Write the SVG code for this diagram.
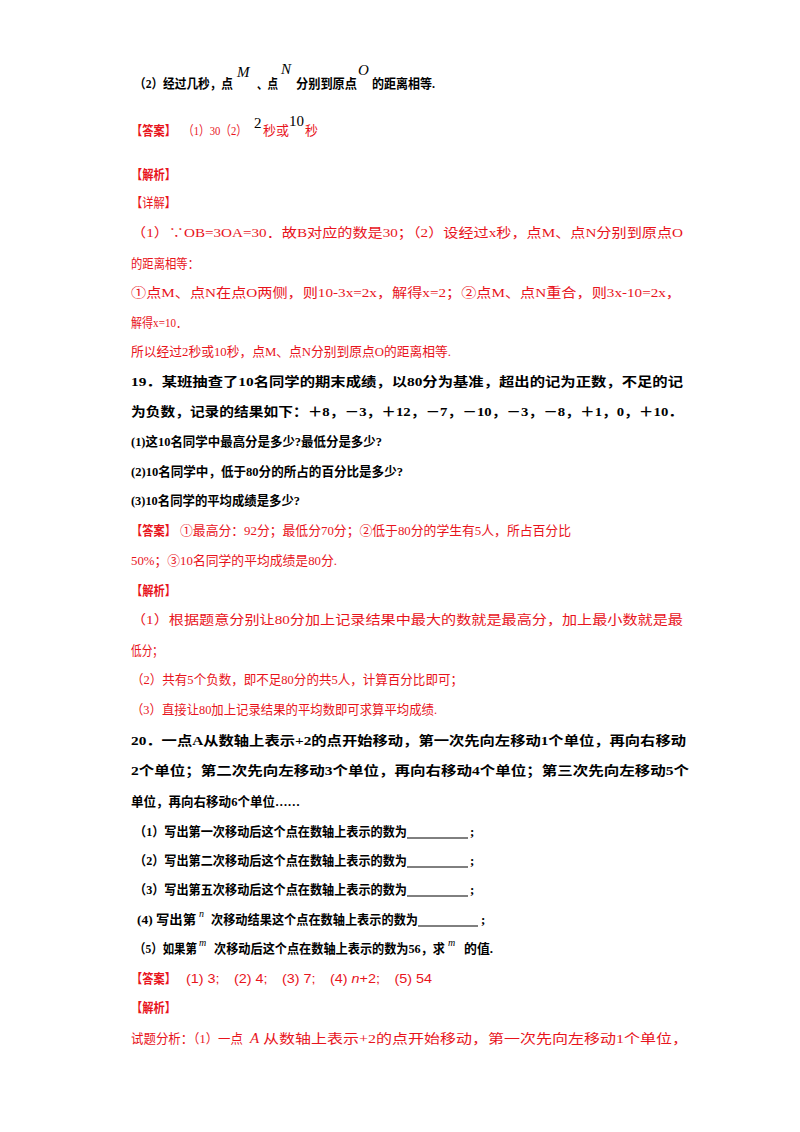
<svg xmlns="http://www.w3.org/2000/svg" width="800" height="1132" viewBox="0 0 800 1132">
<style>
text{font-family:"Liberation Serif","Noto Sans CJK SC",serif;font-size:13px}
.b{font-weight:bold;fill:#000}
.r{fill:#e8141c}
.rb{fill:#e8141c;font-weight:bold}
.i{font-style:italic;font-family:"Liberation Serif",serif;font-size:15px}
.u{stroke:#000;stroke-width:1}
</style>
<rect width="800" height="1132" fill="#fff"/>
<g id="q18">
<text class="b" x="134" y="88" textLength="99" lengthAdjust="spacingAndGlyphs">（2）经过几秒，点</text>
<text class="i" x="237" y="77">M</text>
<text class="b" x="257" y="88" textLength="21" lengthAdjust="spacingAndGlyphs">、点</text>
<text class="i" x="281" y="74">N</text>
<text class="b" x="296" y="88" textLength="61" lengthAdjust="spacingAndGlyphs">分别到原点</text>
<text class="i" x="358" y="75">O</text>
<text class="b" x="372" y="88" textLength="63" lengthAdjust="spacingAndGlyphs">的距离相等.</text>
<text class="rb" x="131" y="135" textLength="45" lengthAdjust="spacingAndGlyphs">【答案】</text>
<text class="r" x="183" y="135" textLength="64" lengthAdjust="spacingAndGlyphs">（1）30（2）</text>
<text x="254" y="128" style="font-size:15px">2</text>
<text class="r" x="263" y="135" textLength="26" lengthAdjust="spacingAndGlyphs">秒或</text>
<text x="289" y="126" style="font-size:15px">10</text>
<text class="r" x="305" y="135">秒</text>
<text class="rb" x="131" y="179" textLength="45" lengthAdjust="spacingAndGlyphs">【解析】</text>
<text class="r" x="131" y="207" textLength="45" lengthAdjust="spacingAndGlyphs">【详解】</text>
<text class="r" x="131" y="237" textLength="552" lengthAdjust="spacingAndGlyphs">（1）∵OB=3OA=30．故B对应的数是30；（2）设经过x秒，点M、点N分别到原点O</text>
<text class="r" x="131" y="268" textLength="68" lengthAdjust="spacingAndGlyphs">的距离相等：</text>
<text class="r" x="131" y="297" textLength="550" lengthAdjust="spacingAndGlyphs">①点M、点N在点O两侧，则10-3x=2x，解得x=2；②点M、点N重合，则3x-10=2x，</text>
<text class="r" x="131" y="327" textLength="56" lengthAdjust="spacingAndGlyphs">解得x=10．</text>
<text class="r" x="131" y="356" textLength="320" lengthAdjust="spacingAndGlyphs">所以经过2秒或10秒，点M、点N分别到原点O的距离相等.</text>
</g>
<g id="q19">
<text class="b" x="131" y="386" textLength="552" lengthAdjust="spacingAndGlyphs">19．某班抽查了10名同学的期末成绩，以80分为基准，超出的记为正数，不足的记</text>
<text class="b" x="131" y="416" textLength="552" lengthAdjust="spacingAndGlyphs">为负数，记录的结果如下：＋8，－3，＋12，－7，－10，－3，－8，＋1，0，＋10．</text>
<text class="b" x="131" y="446" textLength="251" lengthAdjust="spacingAndGlyphs">(1)这10名同学中最高分是多少?最低分是多少?</text>
<text class="b" x="131" y="476" textLength="272" lengthAdjust="spacingAndGlyphs">(2)10名同学中，低于80分的所占的百分比是多少?</text>
<text class="b" x="131" y="505" textLength="169" lengthAdjust="spacingAndGlyphs">(3)10名同学的平均成绩是多少?</text>
<text class="rb" x="131" y="535" textLength="45" lengthAdjust="spacingAndGlyphs">【答案】</text>
<text class="r" x="180" y="535" textLength="391" lengthAdjust="spacingAndGlyphs">①最高分：92分；最低分70分；②低于80分的学生有5人，所占百分比</text>
<text class="r" x="131" y="565" textLength="206" lengthAdjust="spacingAndGlyphs">50%；③10名同学的平均成绩是80分.</text>
<text class="rb" x="131" y="595" textLength="45" lengthAdjust="spacingAndGlyphs">【解析】</text>
<text class="r" x="131" y="624" textLength="552" lengthAdjust="spacingAndGlyphs">（1）根据题意分别让80分加上记录结果中最大的数就是最高分，加上最小数就是最</text>
<text class="r" x="131" y="655" textLength="32" lengthAdjust="spacingAndGlyphs">低分；</text>
<text class="r" x="131" y="684" textLength="332" lengthAdjust="spacingAndGlyphs">（2）共有5个负数，即不足80分的共5人，计算百分比即可；</text>
<text class="r" x="131" y="714" textLength="306" lengthAdjust="spacingAndGlyphs">（3）直接让80加上记录结果的平均数即可求算平均成绩.</text>
</g>
<g id="q20">
<text class="b" x="131" y="745" textLength="555" lengthAdjust="spacingAndGlyphs">20．一点A从数轴上表示+2的点开始移动，第一次先向左移动1个单位，再向右移动</text>
<text class="b" x="131" y="775" textLength="558" lengthAdjust="spacingAndGlyphs">2个单位；第二次先向左移动3个单位，再向右移动4个单位；第三次先向左移动5个</text>
<text class="b" x="131" y="806" textLength="169" lengthAdjust="spacingAndGlyphs">单位，再向右移动6个单位……</text>
<text class="b" x="134" y="836" textLength="273" lengthAdjust="spacingAndGlyphs">（1）写出第一次移动后这个点在数轴上表示的数为</text>
<line class="u" x1="407" y1="838" x2="468" y2="838"/><text class="b" x="470" y="836">;</text>
<text class="b" x="134" y="865" textLength="273" lengthAdjust="spacingAndGlyphs">（2）写出第二次移动后这个点在数轴上表示的数为</text>
<line class="u" x1="407" y1="867" x2="468" y2="867"/><text class="b" x="470" y="865">;</text>
<text class="b" x="134" y="894" textLength="273" lengthAdjust="spacingAndGlyphs">（3）写出第五次移动后这个点在数轴上表示的数为</text>
<line class="u" x1="407" y1="896" x2="468" y2="896"/><text class="b" x="470" y="894">;</text>
<text class="b" x="137" y="924" textLength="59" lengthAdjust="spacingAndGlyphs">(4) 写出第</text>
<text class="i" x="199" y="917" style="font-size:10px">n</text>
<text class="b" x="211" y="924" textLength="207" lengthAdjust="spacingAndGlyphs">次移动结果这个点在数轴上表示的数为</text>
<line class="u" x1="418" y1="926" x2="478" y2="926"/><text class="b" x="481" y="924">;</text>
<text class="b" x="134" y="953" textLength="63" lengthAdjust="spacingAndGlyphs">（5）如果第</text>
<text class="i" x="199" y="946" style="font-size:10px">m</text>
<text class="b" x="214" y="953" textLength="231" lengthAdjust="spacingAndGlyphs">次移动后这个点在数轴上表示的数为56，求</text>
<text class="i" x="448" y="946" style="font-size:10px">m</text>
<text class="b" x="464" y="953" textLength="29" lengthAdjust="spacingAndGlyphs">的值.</text>
<text class="rb" x="131" y="983" textLength="45" lengthAdjust="spacingAndGlyphs">【答案】</text>
<text class="r" x="186" y="983" textLength="246" lengthAdjust="spacingAndGlyphs" style="font-family:'Liberation Sans','Noto Sans CJK SC',sans-serif">(1) 3;　(2) 4;　(3) 7;　(4) <tspan font-style="italic">n</tspan>+2;　(5) 54</text>
<text class="rb" x="131" y="1012" textLength="45" lengthAdjust="spacingAndGlyphs">【解析】</text>
<text class="r" x="131" y="1043" textLength="112" lengthAdjust="spacingAndGlyphs">试题分析：（1）一点</text>
<text class="r i" x="250" y="1043">A</text>
<text class="r" x="263" y="1043" textLength="425" lengthAdjust="spacingAndGlyphs">从数轴上表示+2的点开始移动，第一次先向左移动1个单位，</text>
</g>
</svg>
